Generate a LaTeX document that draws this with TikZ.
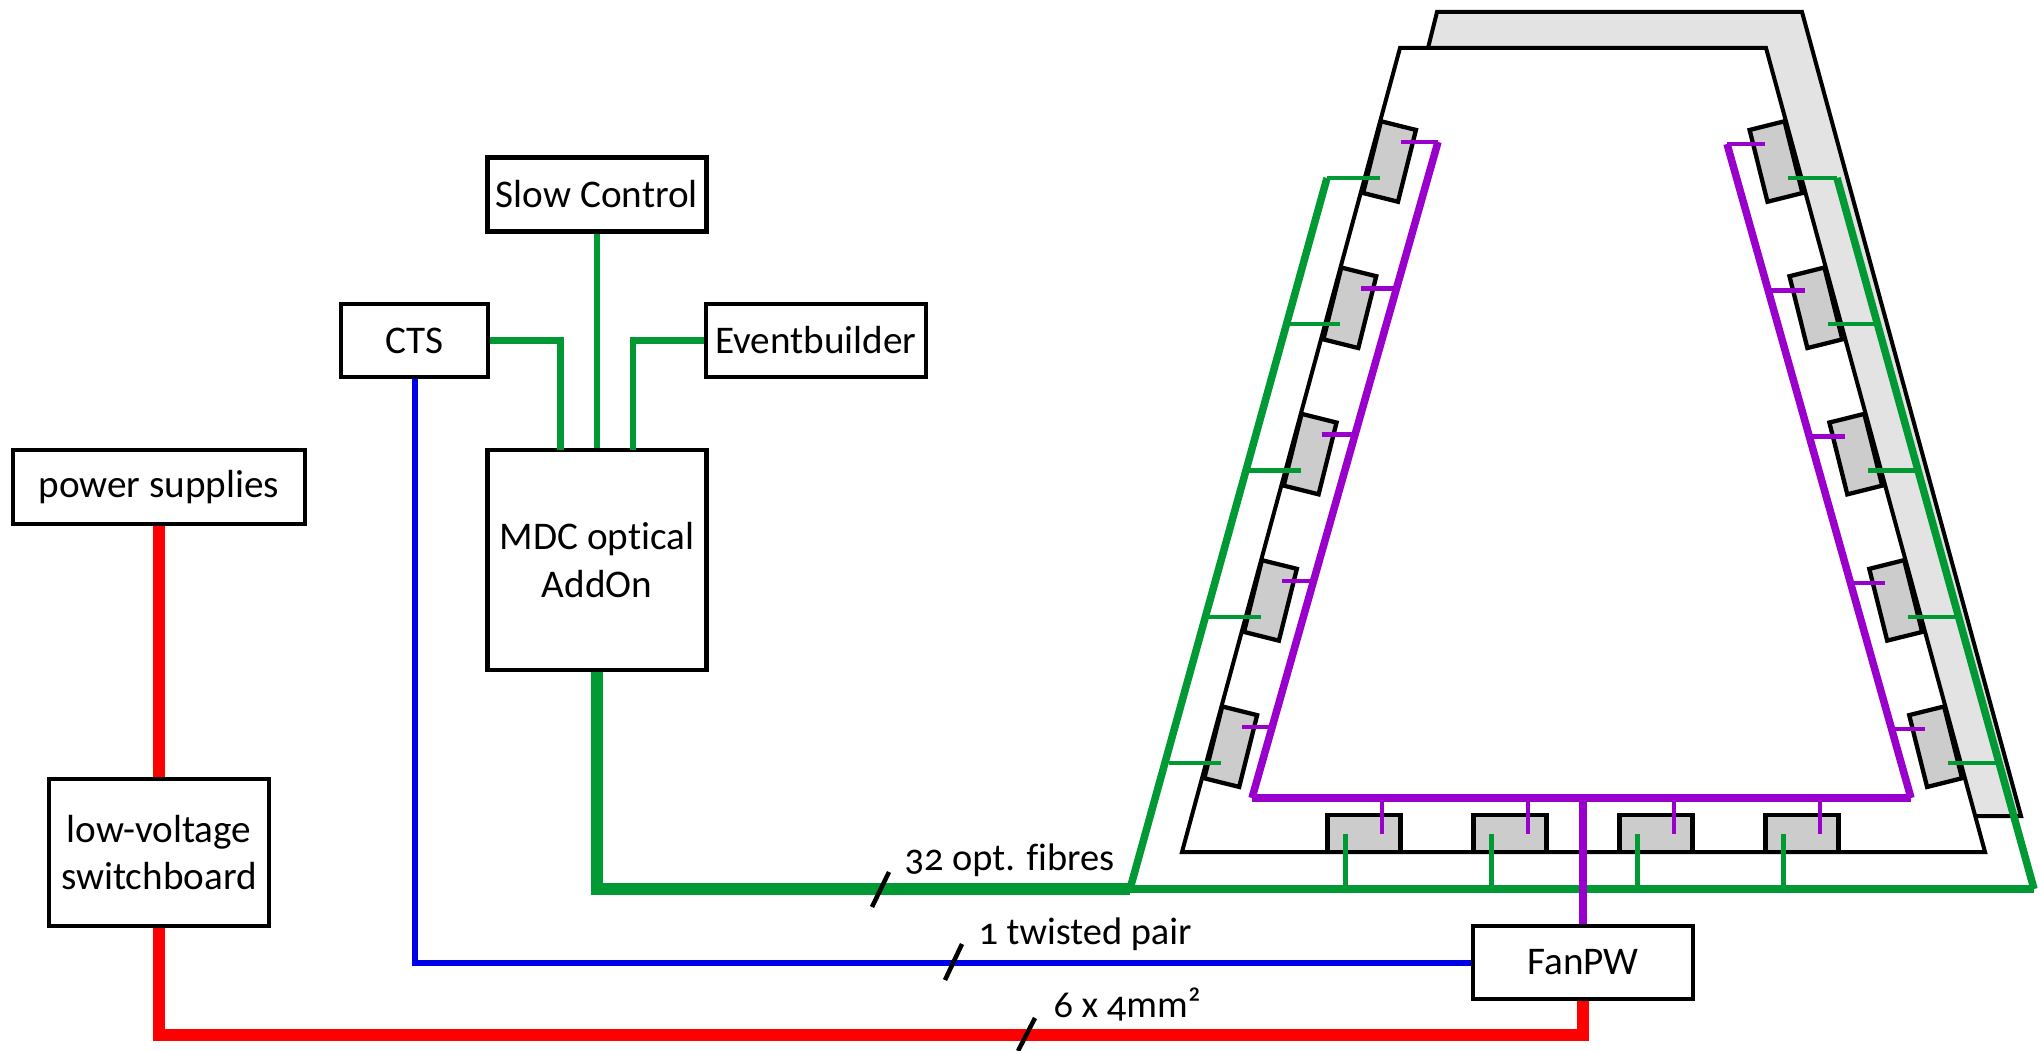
\documentclass[tikz,border=0pt]{standalone}
\usepackage{fontspec}
\setmainfont[Numbers=OldStyle,Ligatures=NoCommon]{Carlito}
\usetikzlibrary{calc}
\definecolor{fgreen}{RGB}{0,153,51}
\definecolor{fpurple}{RGB}{153,0,204}
\definecolor{fblue}{RGB}{0,0,230}
\definecolor{fred}{RGB}{255,0,0}
\definecolor{modgray}{RGB}{204,204,204}
\definecolor{shellgray}{RGB}{227,227,227}
\def\px{0.375pt}
\tikzset{
  x=0.375pt,y=-0.375pt,
  lbl/.style={font=\fontsize{14.7}{17.8}\selectfont},
  box/.style={draw=black,line width=4.3*\px,fill=white,inner sep=0pt,align=center,lbl},
  modul/.style={draw=black,line width=4.3*\px,fill=modgray,inner sep=0pt},
  shell/.style={draw=black,line width=4*\px,line join=miter},
  slashmark/.style={draw=black,line width=4.5*\px},
  wiretext/.style={font=\fontsize{14.4}{17.8}\selectfont,anchor=base west,inner sep=0pt},
  greenA/.style={draw=fgreen,line width=12*\px},
  greenB/.style={draw=fgreen,line width=6.5*\px},
  greenE/.style={draw=fgreen,line width=7.5*\px},
  greenC/.style={draw=fgreen,line width=4.2*\px},
  greenD/.style={draw=fgreen,line width=8*\px},
  purpleA/.style={draw=fpurple,line width=7.5*\px},
  purpleB/.style={draw=fpurple,line width=4.5*\px},
  purpleC/.style={draw=fpurple,line width=8.5*\px},
  blueA/.style={draw=fblue,line width=6*\px},
  redA/.style={draw=fred,line width=12*\px},
}
\begin{document}
\begin{tikzpicture}
\useasboundingbox (0,0) rectangle (2039,1051);
% chamber shells
\draw[shell,fill=shellgray] (1428,48) -- (1437,12) -- (1802,12) -- (2021,816) -- (1975,816);
\draw[shell,fill=white] (1400,48) -- (1766,48) -- (1985,852) -- (1182,852) -- cycle;
% boxes
\node[box,minimum width=219*\px,minimum height=74*\px] (slow) at (597,194.5) {Slow Control};
\node[box,minimum width=146.5*\px,minimum height=73*\px] (cts) at (414.5,340.5) {CTS};
\node[box,minimum width=220*\px,minimum height=73*\px] (evb) at (816,340.5) {Eventbuilder};
\node[box,minimum width=219*\px,minimum height=220*\px] (mdc) at (597,560) {MDC optical\\AddOn};
\node[box,minimum width=292*\px,minimum height=74*\px] (psu) at (159,487) {power supplies};
\node[box,minimum width=220*\px,minimum height=147*\px] (lvs) at (159,852.5) {low-voltage\\switchboard};
\node[box,minimum width=220*\px,minimum height=73*\px] (fan) at (1583,962.5) {FanPW};
% modules
\foreach \i in {0,...,4}{
  \node[modul,rotate=-14,minimum width=36*\px,minimum height=74*\px] (ml\i) at (1389.5-39.7*\i,161.5+146.3*\i) {};
  \node[modul,rotate=14,minimum width=36*\px,minimum height=74*\px] (mr\i) at (1776+39.9*\i,161.5+146.3*\i) {};
}
\foreach \i in {0,...,3}{
  \node[modul,minimum width=73*\px,minimum height=37*\px] (mb\i) at (1364+146*\i,833.5) {};
}
% connector junction points
\coordinate (mdcA) at (560.6,450);
\coordinate (mdcB) at (633,450);
\coordinate (busL) at (1130,889);
\coordinate (busR) at (2034,889);
\coordinate (topGL) at (1327,178);
\coordinate (topGR) at (1837,178);
\coordinate (topPL) at (1438,142);
\coordinate (topPR) at (1727,144);
\coordinate (botPL) at (1252,798);
\coordinate (botPR) at (1911,798);
\coordinate (busP) at (1583,798);
% control links
\draw[greenB] (slow.south) -- (mdc.north);
\draw[greenB] (cts.east) -| (mdcA);
\draw[greenB] (evb.west) -| (mdcB);
% thick runs
\draw[greenA] (mdc.south) |- (busL);
\draw[blueA] (cts.south) |- (fan.west);
\draw[redA] (psu.south) -- (lvs.north);
\draw[redA] (lvs.south) |- (1583,1035) -- (fan.south);
% fibres
\draw[greenD] (busL) -- (busR);
\draw[greenE] (busL) -- (topGL);
\draw[greenE] (busR) -- (topGR);
\foreach \i in {0,...,4}{
  \draw[greenC] ($(ml\i)+(-9.5,16.5)$) -- ++({-53+0.3*\i},0);
  \draw[greenC] ($(mr\i)+(12,16.5)$) -- ++({49+0.6*\i},0);
}
\foreach \i in {0,...,3}{
  \draw[greenC] ($(mb\i)+(-18.5,0)$) -- ($(mb\i)+(-18.5,55.5)$);
}
% power-data bus
\draw[purpleA] (botPL) -- (topPL);
\draw[purpleA] (botPR) -- (topPR);
\foreach \i in {0,...,4}{
  \draw[purpleB] ($(ml\i)+(11.5,-19.5)$) -- ++({37-1.3*\i},0);
  \draw[purpleB] ($(mr\i)+(-11,-17.5)$) -- ++({-38+1.1*\i},0);
}
\foreach \i in {0,...,3}{
  \draw[purpleB] ($(mb\i)+(18,0)$) -- ($(mb\i)+(18,-35.5)$);
}
\draw[purpleC] (botPL) -- (botPR);
\draw[purpleC] (busP) -- (fan.north);
% ticks and captions
\coordinate (t1a) at (889,872); \coordinate (t1b) at (872,907);
\coordinate (t2a) at (962,944); \coordinate (t2b) at (945,980);
\coordinate (t3a) at (1035,1018); \coordinate (t3b) at (1018,1051);
\draw[slashmark] (t1a) -- (t1b);
\draw[slashmark] (t2a) -- (t2b);
\draw[slashmark] (t3a) -- (t3b);
\node[wiretext] (c1) at (904,870) {32 opt. fibres};
\node[wiretext] (c2) at (978,944) {1 twisted pair};
\node[wiretext] (c3) at (1053,1017) {6 x 4mm²};
\end{tikzpicture}
\end{document}
